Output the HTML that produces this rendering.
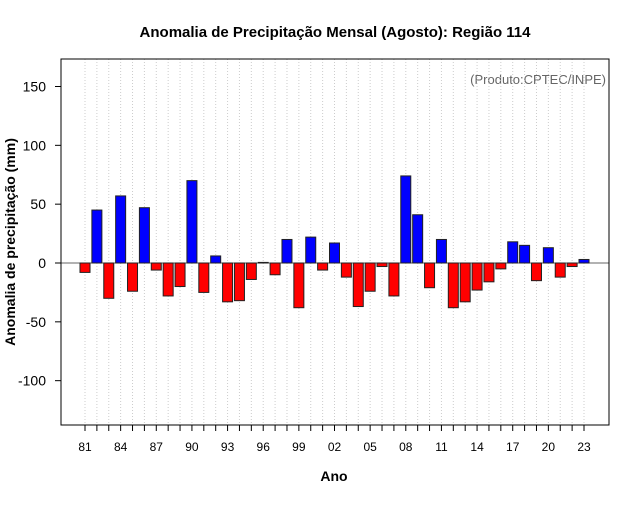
<!DOCTYPE html>
<html><head><meta charset="utf-8"><style>
body{margin:0;background:#fff;font-family:"Liberation Sans",sans-serif}
</style></head><body>
<svg id="c" width="640" height="500" xmlns="http://www.w3.org/2000/svg">
<rect width="640" height="500" fill="#fff"/>
<text x="335" y="37" text-anchor="middle" font-size="15" font-weight="bold">Anomalia de Precipitação Mensal (Agosto): Região 114</text>
<text x="606" y="84" text-anchor="end" font-size="13" fill="#666">(Produto:CPTEC/INPE)</text>
<text x="334" y="481" text-anchor="middle" font-size="14" font-weight="bold">Ano</text>
<text transform="translate(15,242) rotate(-90)" text-anchor="middle" font-size="14" font-weight="bold">Anomalia de precipitação (mm)</text>
<g id="grid"></g><g id="bars"></g><g id="axes"></g>
<rect x="61" y="59" width="548" height="366" fill="none" stroke="#000"/>
</svg>
<script>
const years=[81,82,83,84,85,86,87,88,89,90,91,92,93,94,95,96,97,98,99,0,1,2,3,4,5,6,7,8,9,10,11,12,13,14,15,16,17,18,19,20,21,22,23];
const values=[-8,45,-30,57,-24,47,-6,-28,-20,70,-25,6,-33,-32,-14,0.5,-10,20,-38,22,-6,17,-12,-37,-24,-3,-28,74,41,-21,20,-38,-33,-23,-16,-5,18,15,-15,13,-12,-3,3];
const yTicks=[-100,-50,0,50,100,150];
const NS="http://www.w3.org/2000/svg";
const X=i=>85+i*(584-85)/42;
const Y=v=>263-v*1.1767;
function mk(t,a,p){const e=document.createElementNS(NS,t);for(const k in a)e.setAttribute(k,a[k]);p.appendChild(e);return e;}
const g=document.getElementById('grid'),b=document.getElementById('bars'),ax=document.getElementById('axes');
years.forEach((yr,i)=>{
  const l=mk('line',{x1:X(i),x2:X(i),y1:59,y2:425,stroke:'#ccc','stroke-dasharray':'1,2'},g);
  
  
  const t=mk('line',{x1:X(i),x2:X(i),y1:425,y2:431,stroke:'#000'},ax);
  
  
  if(i%3===0){const tx=mk('text',{x:X(i),y:451,'text-anchor':'middle','font-size':12},ax);tx.textContent=String(yr).padStart(2,'0');
  
  }
});
mk('line',{x1:61,x2:609,y1:Y(0),y2:Y(0),stroke:'#666'},b);
values.forEach((v,i)=>{
  const y0=Math.min(Y(0),Y(v)),h=Math.abs(Y(v)-Y(0));
  const r=mk('rect',{x:X(i)-5,y:y0,width:10,height:h,fill:v>=0?'#0000ff':'#ff0000',stroke:'#222','stroke-width':1},b);
  
  
});
yTicks.forEach(v=>{
  const t=mk('line',{x1:55,x2:61,y1:Y(v),y2:Y(v),stroke:'#000'},ax);
  
  
  const tx=mk('text',{x:46,y:Y(v)+5,'text-anchor':'end','font-size':14},ax);tx.textContent=v;
  
  
});
</script>
</body></html>
